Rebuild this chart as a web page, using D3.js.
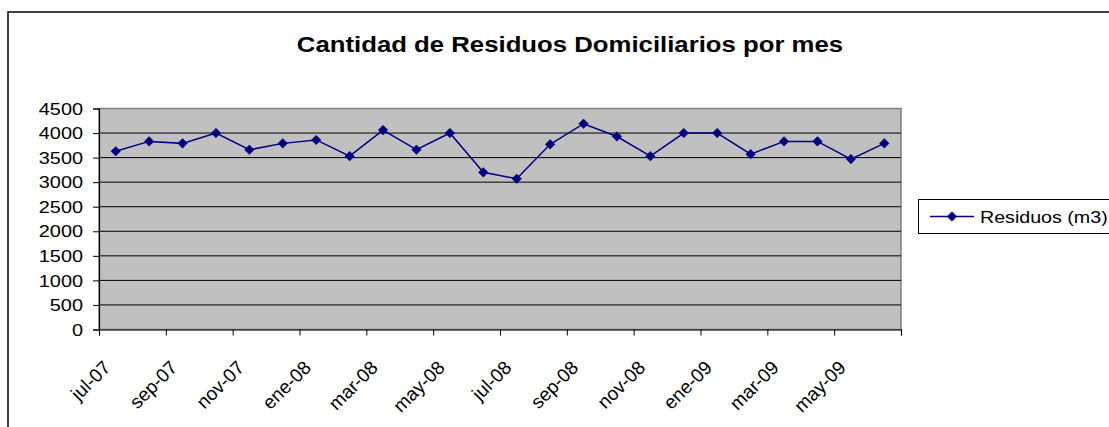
<!DOCTYPE html>
<html>
<head>
<meta charset="utf-8">
<script src="https://cdn.jsdelivr.net/npm/d3@7"></script>
<style>
  html, body { margin: 0; padding: 0; background: #fff; }
  svg { display: block; font-family: "Liberation Sans", Arial, sans-serif; }
</style>
</head>
<body>
<svg id="chart" width="1109" height="427"></svg>
<script>
const months = ["jul-07","ago-07","sep-07","oct-07","nov-07","dic-07","ene-08","feb-08","mar-08","abr-08","may-08","jun-08",
                "jul-08","ago-08","sep-08","oct-08","nov-08","dic-08","ene-09","feb-09","mar-09","abr-09","may-09","jun-09"];
const residuos = [3630,3830,3790,4000,3660,3790,3860,3530,4060,3660,4000,3200,
                  3070,3770,4190,3930,3530,4000,4000,3570,3830,3830,3470,3790];
const yTicks = [0,500,1000,1500,2000,2500,3000,3500,4000,4500];
const titleText = "Cantidad de Residuos Domiciliarios por mes";
const seriesName = "Residuos (m3)";

const svg = d3.select("#chart");
const SX = 1.17; // horizontal stretch of the reference text

const plot = {left: 99, right: 901, top: 108.5, bottom: 329.5};

// chart border
svg.append("rect").attr("x", 8).attr("y", 12).attr("width", 1200).attr("height", 500)
  .attr("fill", "#fff").attr("stroke", "#000").attr("stroke-width", 1.5);

// title
svg.append("text")
  .attr("transform", `translate(570,52) scale(${SX},1)`)
  .attr("text-anchor", "middle").attr("font-size", 22).attr("font-weight", "bold")
  .text(titleText);

const x = d3.scaleBand().domain(months).range([plot.left, plot.right]).paddingInner(0).paddingOuter(0);
const xIdx = d3.scaleLinear().domain([0, months.length]).range([plot.left, plot.right]);
const y = d3.scaleLinear().domain([0, 4500]).range([plot.bottom, plot.top]);

// plot background
svg.append("rect").attr("x", plot.left).attr("y", plot.top)
  .attr("width", plot.right - plot.left).attr("height", plot.bottom - plot.top)
  .attr("fill", "#c0c0c0").attr("stroke", "#808080").attr("stroke-width", 1.5);

// gridlines
svg.append("g").selectAll("line").data(yTicks.filter(d => d > 0 && d < 4500)).join("line")
  .attr("x1", plot.left).attr("x2", plot.right)
  .attr("y1", d => y(d)).attr("y2", d => y(d))
  .attr("stroke", "#000").attr("stroke-width", 1);

// y axis
const yAxis = svg.append("g").attr("transform", `translate(${plot.left},0)`)
  .call(d3.axisLeft(y).tickValues(yTicks).tickSize(6).tickFormat(""));
yAxis.select(".domain").attr("stroke", "#000").attr("stroke-width", 1.2);
yAxis.selectAll(".tick line").attr("stroke", "#000");
svg.append("g").selectAll("text").data(yTicks).join("text")
  .attr("transform", d => `translate(83,${y(d)}) scale(${SX},1)`)
  .attr("text-anchor", "end").attr("dy", "0.36em").attr("font-size", 17)
  .text(d => d);

// x axis
const xTickIdx = d3.range(0, months.length + 1, 2);
const xAxis = svg.append("g").attr("transform", `translate(0,${plot.bottom})`)
  .call(d3.axisBottom(xIdx).tickValues(xTickIdx).tickSize(6).tickFormat(""));
xAxis.select(".domain").attr("stroke", "#000").attr("stroke-width", 1.2);
xAxis.selectAll(".tick line").attr("stroke", "#000");
svg.append("g").selectAll("text").data(xTickIdx.filter(i => i < months.length)).join("text")
  .attr("transform", i => `translate(${xIdx(i) + 8},364) rotate(-45)`)
  .attr("text-anchor", "end").attr("dy", "0.35em").attr("font-size", 19)
  .text(i => months[i]);

// series line
const cx = d => x(d) + x.bandwidth() / 2;
const line = d3.line().x((d, i) => cx(months[i])).y(d => y(d));
svg.append("path").datum(residuos).attr("d", line)
  .attr("fill", "none").attr("stroke", "#000080").attr("stroke-width", 1.5);

const diamond = (px, py, r) => `M${px},${py - r}L${px + r},${py}L${px},${py + r}L${px - r},${py}Z`;
svg.append("g").selectAll("path").data(residuos).join("path")
  .attr("d", (d, i) => diamond(cx(months[i]), y(d), 4.8))
  .attr("fill", "#000080").attr("stroke", "#000080").attr("stroke-width", 0.5);

// legend
const lg = svg.append("g");
lg.append("rect").attr("x", 918.5).attr("y", 199.5).attr("width", 260).attr("height", 34)
  .attr("fill", "#fff").attr("stroke", "#000").attr("stroke-width", 1);
lg.append("line").attr("x1", 930).attr("x2", 974).attr("y1", 216.5).attr("y2", 216.5)
  .attr("stroke", "#000080").attr("stroke-width", 1.5);
lg.append("path").attr("d", diamond(952, 216.5, 4.8)).attr("fill", "#000080").attr("stroke", "#000080").attr("stroke-width", 0.5);
lg.append("text").attr("transform", `translate(980,216.5) scale(${SX},1)`)
  .attr("dy", "0.36em").attr("font-size", 16.8).text(seriesName);
</script>
</body>
</html>
